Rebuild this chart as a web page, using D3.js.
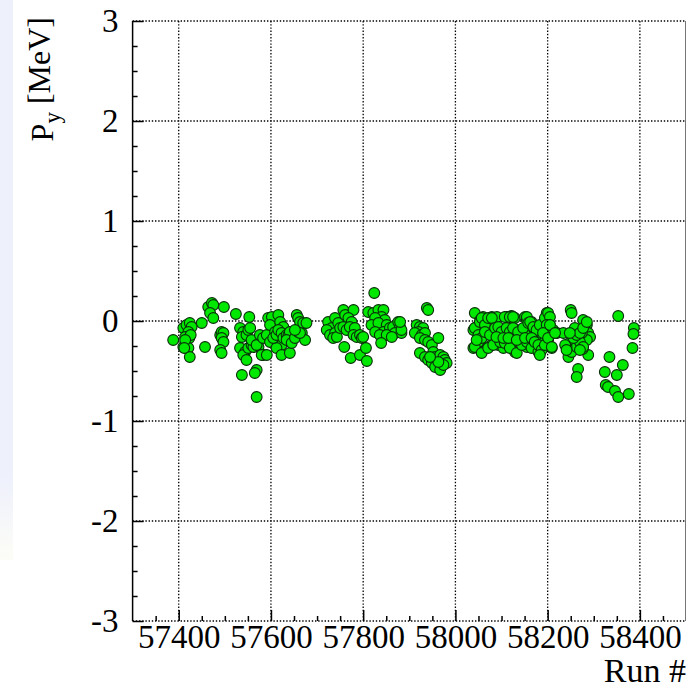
<!DOCTYPE html>
<html><head><meta charset="utf-8">
<script src="https://cdn.jsdelivr.net/npm/d3@7"></script>
<style>
body{margin:0;background:#fff}
svg{display:block}
</style>
</head><body>
<svg id="c" width="687" height="690"></svg>
<script>
// Data: run number and P_y [MeV]
const runs = [
57388,57410,57417,57424,57428,57421,57414,57423,57426,57410,57421,57424,57414,57412,57450,57457,57464,57472,57475,57468,57475,57498,57490,57493,57497,57493,57497,57490,57493,
57524,57553,57533,57540,57537,57547,57551,57555,57533,57544,57540,57547,57551,57537,57558,57565,57573,57569,57565,57569,57562,57558,57569,57576,57583,57591,57598,57594,57602,57598,57609,57612,57616,57620,57627,57623,57612,57583,57580,57591,57623,57641,57605,57612,57616,57623,57627,57634,57638,57638,57641,57634,57645,57652,57659,57667,57674,57656,57659,57663,57670,57677,57663,57652,
57724,57732,57721,57728,57739,57746,57757,57761,57779,57768,57775,57739,57735,57743,57750,57757,57764,57771,57782,57779,57786,57793,57797,57759,57773,57793,57806,57808,57824,57811,57822,57833,57844,57840,57847,57826,57818,57833,57851,57844,57858,57865,57876,57880,57869,57883,57826,57836,57851,57862,57839,57883,57800,57880,
57938,57941,57916,57923,57930,57920,57912,57927,57934,57923,57934,57941,57949,57963,57923,57934,57941,57952,57956,57959,57967,57974,57977,57981,57949,57956,57967,57974,57963,57945,
58042,58054,58060,58079,58090,58111,58122,58129,58151,58155,58165,58198,58201,
58039,58046,58053,58060,58068,58075,58082,58089,58097,58104,58111,58118,58125,58133,58140,58147,58155,58162,58169,58176,58183,58190,58198,58205,58212,58220,
58039,58050,58057,58071,58082,58093,58104,58115,58129,58140,58155,58169,58180,58183,58209,58201,58234,
58042,58053,58057,58064,58071,58079,58050,58057,58064,58075,58086,58093,58100,58107,58118,58125,58111,58118,58125,58136,58147,58155,58158,58169,58176,
58042,58057,58071,58082,58097,58107,58118,58133,58144,58155,58165,58180,58046,58089,58104,58115,58133,58151,58169,
58162,58169,58176,58183,58194,58201,58205,58198,58190,58165,58172,58180,58187,58183,58194,58201,58209,58205,58216,
58250,58252,58259,58277,58285,58281,58288,58292,58285,58274,58266,58256,58248,58245,58252,58263,58274,58288,58276,58266,58263,58241,58270,58238,58241,58256,58263,58270,58277,58285,58277,58270,58248,
58353,58387,58386,58384,58334,58363,58324,58350,58326,58331,58346,58353,58376
];
const py = [
-0.19,-0.07,-0.04,-0.02,-0.06,-0.11,-0.16,-0.17,-0.14,-0.26,-0.27,-0.36,-0.19,-0.27,-0.02,-0.26,0.14,0.18,0.16,0.08,0.03,0.14,-0.14,-0.11,-0.12,-0.17,-0.21,-0.29,-0.32,
0.07,0.04,-0.07,-0.11,-0.16,-0.14,-0.09,-0.07,-0.27,-0.31,-0.34,-0.39,-0.27,-0.54,-0.24,-0.22,-0.26,-0.49,-0.52,-0.76,-0.26,-0.19,-0.24,-0.14,-0.17,-0.14,-0.21,0.03,0.04,-0.04,-0.11,-0.17,0.06,-0.01,-0.06,-0.24,-0.27,-0.34,-0.34,-0.34,-0.34,-0.32,-0.17,-0.14,-0.09,-0.12,-0.17,-0.14,-0.19,-0.14,-0.11,-0.19,-0.22,-0.17,-0.11,-0.12,-0.19,0.06,0.03,-0.01,-0.02,-0.02,-0.12,-0.09,
-0.01,-0.07,-0.09,-0.14,0.03,-0.02,0.11,0.06,0.11,0.03,-0.01,-0.12,-0.17,-0.16,-0.07,-0.06,-0.09,-0.06,-0.07,-0.14,-0.16,-0.14,-0.17,-0.26,-0.37,-0.34,-0.27,-0.40,0.28,0.09,0.08,0.11,0.11,0.04,0.01,0.03,-0.04,-0.02,-0.04,-0.11,-0.07,-0.06,-0.01,-0.06,-0.12,-0.12,-0.11,-0.14,-0.14,-0.16,-0.22,-0.09,-0.16,-0.01,
0.13,0.11,-0.04,-0.06,-0.07,-0.11,-0.12,-0.14,-0.12,-0.17,-0.19,-0.21,-0.24,-0.17,-0.32,-0.36,-0.39,-0.31,-0.36,-0.39,-0.34,-0.36,-0.39,-0.42,-0.42,-0.46,-0.49,-0.44,-0.41,-0.36,
0.08,0.01,0.04,0.04,0.04,0.04,0.05,0.03,0.04,0.01,-0.01,0.08,0.04,
-0.09,-0.06,-0.12,-0.09,-0.07,-0.12,-0.09,-0.16,-0.11,-0.14,-0.09,-0.12,-0.16,-0.09,-0.12,-0.17,-0.09,-0.14,-0.16,-0.12,-0.17,-0.06,-0.09,-0.04,-0.09,-0.12,
-0.27,-0.21,-0.31,-0.26,-0.21,-0.24,-0.27,-0.24,-0.31,-0.22,-0.26,-0.24,-0.29,-0.32,-0.27,-0.19,-0.12,
-0.07,-0.01,0.03,-0.04,0.03,0.03,-0.14,-0.17,-0.11,-0.14,-0.07,-0.06,-0.11,0.04,0.04,0.04,-0.07,-0.11,-0.07,-0.11,-0.07,0.04,-0.02,-0.07,-0.14,
-0.26,-0.32,-0.27,-0.24,-0.21,-0.22,-0.27,-0.32,-0.24,-0.21,-0.27,-0.31,-0.19,-0.16,-0.17,-0.17,-0.19,-0.17,-0.19,
-0.01,-0.06,-0.09,-0.04,0.03,0.08,0.04,-0.04,-0.12,-0.17,-0.21,-0.24,-0.29,-0.34,-0.24,-0.17,-0.26,-0.04,-0.12,
0.11,0.08,-0.07,0.01,-0.04,-0.09,-0.12,-0.16,-0.19,-0.12,-0.16,-0.19,-0.22,-0.36,-0.31,-0.26,-0.27,-0.34,-0.28,-0.48,-0.56,-0.26,-0.21,-0.24,-0.29,-0.17,-0.14,-0.12,-0.07,-0.01,-0.26,-0.29,-0.12,
0.05,-0.07,-0.13,-0.27,-0.36,-0.44,-0.51,-0.54,-0.64,-0.66,-0.70,-0.76,-0.73
];
const xTicks = [57400,57600,57800,58000,58200,58400];
const yTicks = [-3,-2,-1,0,1,2,3];
const xTitle = "Run #";
const yTitle = ["P","y"," [MeV]"];

const FONT = "Liberation Serif";
const svg = d3.select("#c");
const L = 132.6, R = 686, T = 21, B = 621;
const x = d3.scaleLinear().domain([57300,58500]).range([L,R]);
const y = d3.scaleLinear().domain([-3,3]).range([B,T]);
const fmt = d => String(d);

// background strip on the left
const defs = svg.append("defs");
const g1 = defs.append("linearGradient").attr("id","bg").attr("x1",0).attr("y1",0).attr("x2",0).attr("y2",1);
g1.append("stop").attr("offset","0").attr("stop-color","#eef0fc");
g1.append("stop").attr("offset","0.85").attr("stop-color","#eef0fc");
g1.append("stop").attr("offset","1").attr("stop-color","#fdfdf7");
svg.append("rect").attr("x",0).attr("y",0).attr("width",13).attr("height",560).attr("fill","url(#bg)");

// grid
const grid = svg.append("g").attr("stroke","#000").attr("stroke-width",1.3).attr("stroke-dasharray","1.4,1.8");
grid.selectAll(".gx").data(xTicks).join("line")
  .attr("x1",d=>x(d)).attr("x2",d=>x(d)).attr("y1",T).attr("y2",B);
grid.selectAll(".gy").data(yTicks).join("line")
  .attr("x1",L).attr("x2",R).attr("y1",d=>y(d)).attr("y2",d=>y(d));

// frame: left solid, right thin grey
svg.append("line").attr("x1",L).attr("x2",L).attr("y1",T).attr("y2",B).attr("stroke","#000").attr("stroke-width",1.5);
svg.append("line").attr("x1",R-0.5).attr("x2",R-0.5).attr("y1",T).attr("y2",B).attr("stroke","#777").attr("stroke-width",1);

// axes (ticks inward)
const yMinor = d3.range(-3,3.001,0.25).filter(v=>Math.abs(v-Math.round(v))>1e-6);
const xMinor = d3.range(57350,58500,50).filter(v=>v%200!==0);

const yAx = svg.append("g").attr("transform",`translate(${L},0)`)
  .call(d3.axisLeft(y).tickValues(yTicks).tickSizeInner(-11).tickSizeOuter(0).tickPadding(14).tickFormat(fmt));
yAx.attr("font-family",FONT).attr("font-size",33);
yAx.select(".domain").remove();
yAx.selectAll("line").attr("stroke-width",1.5);
yAx.selectAll("text").attr("font-family",FONT).attr("font-size",33).attr("dy","0.33em");
const yAxm = svg.append("g").attr("transform",`translate(${L},0)`)
  .call(d3.axisLeft(y).tickValues(yMinor).tickSizeInner(-5).tickSizeOuter(0).tickFormat(""));
yAxm.select(".domain").remove();
yAxm.selectAll("line").attr("stroke-width",1.5);

const xAx = svg.append("g").attr("transform",`translate(0,${B})`)
  .call(d3.axisBottom(x).tickValues(xTicks).tickSizeInner(-11).tickSizeOuter(0).tickPadding(4).tickFormat(fmt));
xAx.attr("font-family",FONT).attr("font-size",33);
xAx.select(".domain").remove();
xAx.selectAll("line").attr("stroke-width",1.5);
xAx.selectAll("text").attr("font-family",FONT).attr("font-size",33);
const xAxm = svg.append("g").attr("transform",`translate(0,${B})`)
  .call(d3.axisBottom(x).tickValues(xMinor).tickSizeInner(-5).tickSizeOuter(0).tickFormat(""));
xAxm.select(".domain").remove();
xAxm.selectAll("line").attr("stroke-width",1.5);

// points
const pts = runs.map((r,i)=>({r, p: py[i]}));
svg.append("g").selectAll("circle").data(pts).join("circle")
  .attr("cx",d=>x(d.r)).attr("cy",d=>y(d.p)).attr("r",5.4)
  .attr("fill","#00e800").attr("stroke","#0a2e0a").attr("stroke-width",1.1);

// titles
svg.append("text").attr("x",686).attr("y",682).attr("text-anchor","end")
  .attr("font-family",FONT).attr("font-size",34).text(xTitle);
const yt = svg.append("text").attr("transform","translate(53,17) rotate(-90)")
  .attr("text-anchor","end").attr("font-family",FONT).attr("font-size",32);
yt.append("tspan").text(yTitle[0]);
yt.append("tspan").attr("font-size",23).attr("dy","0.3em").text(yTitle[1]);
yt.append("tspan").attr("dy","-0.3em").attr("font-size",32).text(yTitle[2]);
</script>
</body></html>
